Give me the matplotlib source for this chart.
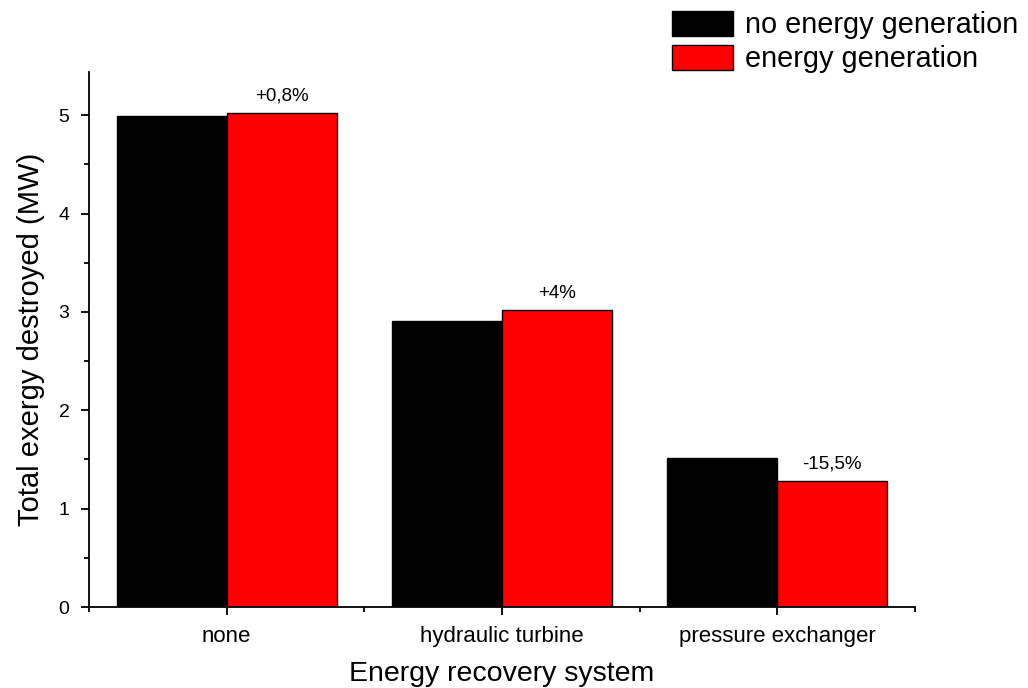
import matplotlib
matplotlib.use("Agg")
import matplotlib.pyplot as plt
import numpy as np
from matplotlib.ticker import MultipleLocator

plt.rcParams['font.family'] = ['Liberation Sans', 'DejaVu Sans']

categories = ['none', 'hydraulic turbine', 'pressure exchanger']
no_gen = [4.99, 2.91, 1.51]
gen = [5.02, 3.02, 1.28]
changes = ['+0,8%', '+4%', '-15,5%']

x = np.arange(1, len(categories) + 1)
w = 0.4

fig = plt.figure(figsize=(10.28, 6.88), dpi=100)
ax = fig.add_axes([0.0866, 0.1177, 0.8034, 0.7778])

b1 = ax.bar(x - w / 2, no_gen, w, color='black', edgecolor='black', linewidth=1,
            label='no energy generation')
b2 = ax.bar(x + w / 2, gen, w, color='#ff0000', edgecolor='black', linewidth=1,
            label='energy generation')

# percentage change labels above the red bars
for xi, v, t in zip(x, gen, changes):
    ax.annotate(t, (xi + w / 2, v), xytext=(0, 6), textcoords='offset points',
                ha='center', va='bottom', fontsize=13.5)

ax.set_xlim(0.5, 3.5)
ax.set_ylim(0, 5.44)
ax.set_xticks(x)
ax.set_xticklabels(categories, fontsize=16)
ax.xaxis.set_minor_locator(MultipleLocator(0.5))
ax.yaxis.set_major_locator(MultipleLocator(1))
ax.yaxis.set_minor_locator(MultipleLocator(0.5))
ax.tick_params(axis='both', which='major', direction='out', length=6, width=1.3, pad=8)
ax.tick_params(axis='both', which='minor', direction='out', length=3.5, width=1.3)
ax.tick_params(axis='y', labelsize=14)
for s in ['top', 'right']:
    ax.spines[s].set_visible(False)
for s in ['left', 'bottom']:
    ax.spines[s].set_linewidth(1.3)

ax.set_xlabel('Energy recovery system', fontsize=20.5, labelpad=10)
ax.set_ylabel('Total exergy destroyed (MW)', fontsize=21, labelpad=10)

fig.legend(handles=[b1, b2], loc='upper left', bbox_to_anchor=(0.654, 0.984),
           frameon=False, fontsize=20.8, handlelength=2.1, handleheight=0.95,
           handletextpad=0.4, labelspacing=0.18, borderpad=0, borderaxespad=0)

fig.savefig('out.png', dpi=100)
